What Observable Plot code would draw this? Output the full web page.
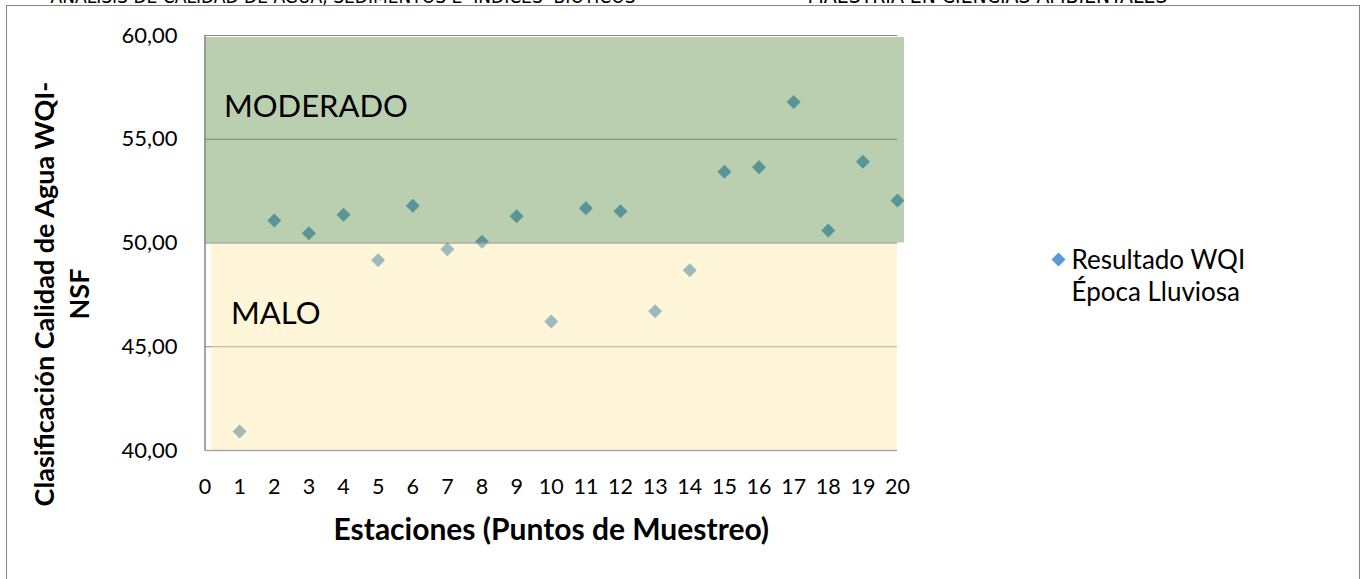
<!DOCTYPE html>
<html>
<head>
<meta charset="utf-8">
<script src="https://cdn.jsdelivr.net/npm/d3@7"></script>
<script src="https://cdn.jsdelivr.net/npm/@observablehq/plot@0.6"></script>
<style>
  html, body { margin: 0; padding: 0; background: #fff; }
  #chart svg { display: block; }
</style>
</head>
<body>
<div id="chart"></div>
<script>
// ---- data ----
const stations = [1, 2, 3, 4, 5, 6, 7, 8, 9, 10, 11, 12, 13, 14, 15, 16, 17, 18, 19, 20];
const wqi = [40.92, 51.08, 50.47, 51.36, 49.17, 51.79, 49.70, 50.06, 51.29, 46.22,
             51.68, 51.53, 46.71, 48.69, 53.43, 53.65, 56.79, 50.60, 53.91, 52.05];
const xTicks = [0, 1, 2, 3, 4, 5, 6, 7, 8, 9, 10, 11, 12, 13, 14, 15, 16, 17, 18, 19, 20];
const yTicks = [40, 45, 50, 55, 60];
const xDomain = [0, 20];
const yDomain = [40, 60];
const bandNames = ["MODERADO", "MALO"];
const bandLo = [50, 40];
const bandHi = [60, 50];
const seriesName = "Resultado WQI\nÉpoca Lluviosa";
const headerLeft = "ANÁLISIS DE CALIDAD DE AGUA, SEDIMENTOS E  ÍNDICES  BIÓTICOS";
const headerRight = "MAESTRÍA EN CIENCIAS AMBIENTALES";
const yTitle = "Clasificación Calidad de Agua WQI-\nNSF";
const xTitle = "Estaciones (Puntos de Muestreo)";

const points = stations.map((s, i) => ({station: s, value: wqi[i]}));
const bands = bandNames.map((n, i) => ({name: n, lo: bandLo[i], hi: bandHi[i]}));
const fmt = d => d.toFixed(2).replace(".", ",");

const font = "Lato, 'Open Sans', sans-serif";
const narrow = "'Liberation Sans Narrow', 'DejaVu Sans Condensed', sans-serif";
const gray = "#868686";

const chart = Plot.plot({
  width: 1365,
  height: 579,
  marginLeft: 204.5,
  marginRight: 468,
  marginTop: 35,
  marginBottom: 129,
  style: {fontFamily: font, fontSize: "21px", color: "#000", background: "#fff"},
  x: {domain: xDomain},
  y: {domain: yDomain},
  marks: [
    // outer chart border
    Plot.frame({stroke: gray, insetLeft: -198.5, insetTop: -30, insetRight: -462, insetBottom: -140}),
    // gridlines (under the translucent bands)
    Plot.ruleY([45, 55], {stroke: gray, strokeWidth: 1}),
    // points
    Plot.dot(points, {x: "station", y: "value", symbol: "diamond2", r: 6.3, fill: "#5b9bd5", stroke: "none"}),
    // translucent classification bands
    Plot.rect([bands[0]], {x1: () => xDomain[0], x2: () => xDomain[1], y1: "lo", y2: "hi",
      fill: "rgb(87,138,62)", fillOpacity: 0.41, insetTop: 2, insetRight: -7}),
    Plot.rect([bands[1]], {x1: () => xDomain[0], x2: () => xDomain[1], y1: "lo", y2: "hi",
      fill: "rgb(254,230,160)", fillOpacity: 0.41, insetLeft: 6.5}),
    // lines above bands
    Plot.ruleY([50, 60], {stroke: gray, strokeWidth: 1}),
    Plot.ruleY([40], {stroke: "#a6a6a6", strokeWidth: 1.5}),
    Plot.ruleX([0], {y1: yDomain[0], y2: yDomain[1], stroke: gray, strokeWidth: 1.5}),
    // band labels
    Plot.text([bands[0]], {x: () => xDomain[0], y: "hi", text: "name", textAnchor: "start",
      lineAnchor: "middle", dx: 19, dy: 72, fontSize: 31, fill: "#000"}),
    Plot.text([bands[1]], {x: () => xDomain[0], y: "hi", text: "name", textAnchor: "start",
      lineAnchor: "middle", dx: 26, dy: 71, fontSize: 31, fill: "#000"}),
    // axes
    Plot.axisY({ticks: yTicks, tickFormat: fmt, tickSize: 0, tickPadding: 27.5, fontSize: 22, label: null}),
    Plot.axisX({ticks: xTicks, tickFormat: d => String(d), tickSize: 0, tickPadding: 28, fontSize: 21.5, label: null}),
    // axis titles
    Plot.text([yTitle], {frameAnchor: "left", text: d => d, rotate: -90, dx: -144.5, dy: 51,
      fontSize: 27, fontWeight: "bold", lineHeight: 1.27, textAnchor: "middle", lineAnchor: "middle", fill: "#000"}),
    Plot.text([xTitle], {frameAnchor: "bottom", text: d => d, dy: 80, fontSize: 30, fontWeight: "bold",
      lineAnchor: "middle", fill: "#000"}),
    // legend
    Plot.dot([seriesName], {frameAnchor: "right", dx: 161, dy: 16.5, symbol: "diamond2", r: 6.3, fill: "#5b9bd5", stroke: "none"}),
    Plot.text([seriesName], {frameAnchor: "right", text: d => d, dx: 174, dy: 32, textAnchor: "start",
      lineAnchor: "middle", fontSize: 26, lineHeight: 1.2, fill: "#000"}),
    // clipped page header
    Plot.text([headerLeft], {frameAnchor: "top-left", text: d => d, dx: -154.5, dy: -46, textAnchor: "start",
      lineAnchor: "top", fontSize: 19, fontFamily: narrow, fill: "#000"}),
    Plot.text([headerRight], {frameAnchor: "top-left", text: d => d, dx: 602.5, dy: -47, textAnchor: "start",
      lineAnchor: "top", fontSize: 21, fontFamily: narrow, fill: "#000"})
  ]
});
document.getElementById("chart").appendChild(chart);
</script>
</body>
</html>
